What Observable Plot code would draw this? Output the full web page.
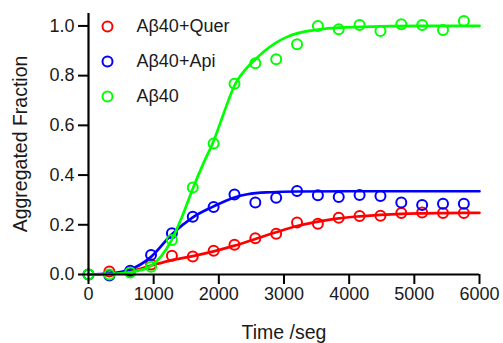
<!DOCTYPE html>
<html><head><meta charset="utf-8">
<script src="https://cdn.jsdelivr.net/npm/d3@7"></script>
<script src="https://cdn.jsdelivr.net/npm/@observablehq/plot@0.6"></script>
<style>body{margin:0;background:#fff}</style>
</head><body><div id="chart"></div>
<script>
// Measured time points (s)
const times = [0,320,640,960,1280,1600,1920,2240,2560,2880,3200,3520,3840,4160,4480,4800,5120,5440,5760];
// Aggregated fraction
const querValues = [0,0.012,0.012,0.04,0.075,0.072,0.096,0.12,0.146,0.164,0.209,0.204,0.228,0.235,0.236,0.247,0.249,0.247,0.247];
const apiValues  = [0,-0.004,0.015,0.078,0.166,0.232,0.272,0.322,0.29,0.309,0.336,0.319,0.312,0.32,0.316,0.29,0.28,0.285,0.285];
const abValues   = [0,0.0,0.008,0.031,0.139,0.35,0.527,0.767,0.85,0.866,0.926,1.0,0.987,1.004,0.98,1.007,1.004,0.984,1.02];

// Fitted curves
const querFitT = [0,320,640,960,1280,1600,1920,2240,2560,2880,3200,3520,3840,4160,4480,4800,5200,5760,6000];
const querFitY = [0,0.003,0.013,0.036,0.058,0.074,0.093,0.116,0.143,0.17,0.195,0.213,0.226,0.234,0.24,0.244,0.246,0.248,0.248];
const apiFitT  = [0,320,640,960,1280,1600,1920,2240,2440,2800,3200,4000,6000];
const apiFitY  = [0,0.004,0.02,0.071,0.162,0.23,0.274,0.31,0.323,0.331,0.334,0.335,0.335];
const abFitT   = [0,400,700,960,1120,1280,1440,1600,1760,1920,2080,2240,2400,2560,2720,2880,3040,3200,3520,3840,4480,5120,6000];
const abFitY   = [0,0.003,0.012,0.035,0.075,0.14,0.235,0.345,0.445,0.537,0.652,0.76,0.822,0.865,0.903,0.933,0.955,0.97,0.985,0.993,0.998,1.0,1.0];

const seriesNames  = ["Aβ40+Quer","Aβ40+Api","Aβ40"];
const seriesColors = ["#ff0000","#0000ff","#00ff00"];
const xTicks = [0,1000,2000,3000,4000,5000,6000];
const yTicks = [0,0.2,0.4,0.6,0.8,1.0];
const xLabel = "Time /seg";
const yLabel = "Aggregated Fraction";

const pointSets = [querValues, apiValues, abValues];
const fitSets = [[querFitT, querFitY],[apiFitT, apiFitY],[abFitT, abFitY]];

const seriesMarks = [];
seriesNames.forEach((name, i) => {
  const fit = fitSets[i][0].map((t, j) => ({t, v: fitSets[i][1][j], s: name}));
  const pts = times.map((t, j) => ({t, v: pointSets[i][j], s: name}));
  seriesMarks.push(Plot.line(fit, {x: "t", y: "v", stroke: seriesColors[i], strokeWidth: 2.7, curve: "monotone-x"}));
  seriesMarks.push(Plot.dot(pts, {x: "t", y: "v", stroke: seriesColors[i], r: 5, strokeWidth: 2, fill: "none"}));
});

const legendMarks = [];
seriesNames.forEach((name, i) => {
  legendMarks.push(Plot.dot([name], {frameAnchor: "top-left", dx: 19, dy: 13 + 35 * i, r: 5, stroke: seriesColors[i], strokeWidth: 2, fill: "none"}));
  legendMarks.push(Plot.text([name], {frameAnchor: "top-left", dx: 48, dy: 13 + 35 * i, text: d => d, textAnchor: "start", lineAnchor: "middle", fill: "#1a1a1a", fontSize: 18}));
});

const chart = Plot.plot({
  width: 503, height: 343,
  marginLeft: 88, marginRight: 24, marginTop: 13, marginBottom: 69,
  style: {fontFamily: "'Liberation Sans', Arial, sans-serif", fontSize: "18px", color: "#1a1a1a", background: "#fff"},
  x: {domain: [0, 6000]},
  y: {domain: [0, 1.05]},
  marks: [
    ...seriesMarks,
    Plot.ruleX([0], {stroke: "#000", strokeWidth: 2.2}),
    Plot.ruleY([0], {stroke: "#000", strokeWidth: 2.2}),
    Plot.axisX({ticks: xTicks, tickSize: 10, tickPadding: 3, stroke: "#000", strokeWidth: 2, tickFormat: d => String(d), label: null}),
    Plot.axisY({ticks: yTicks, tickSize: 10, tickPadding: 4, stroke: "#000", strokeWidth: 2, tickFormat: ".1f", label: null}),
    Plot.axisX({ticks: [], tickSize: 0, label: xLabel, labelAnchor: "center", labelArrow: "none", labelOffset: 64, fontSize: 19.5}),
    Plot.axisY({ticks: [], tickSize: 0, label: yLabel, labelAnchor: "center", labelArrow: "none", labelOffset: 75, fontSize: 19.5}),
    ...legendMarks
  ]
});
document.getElementById("chart").appendChild(chart);
</script>
</body></html>
